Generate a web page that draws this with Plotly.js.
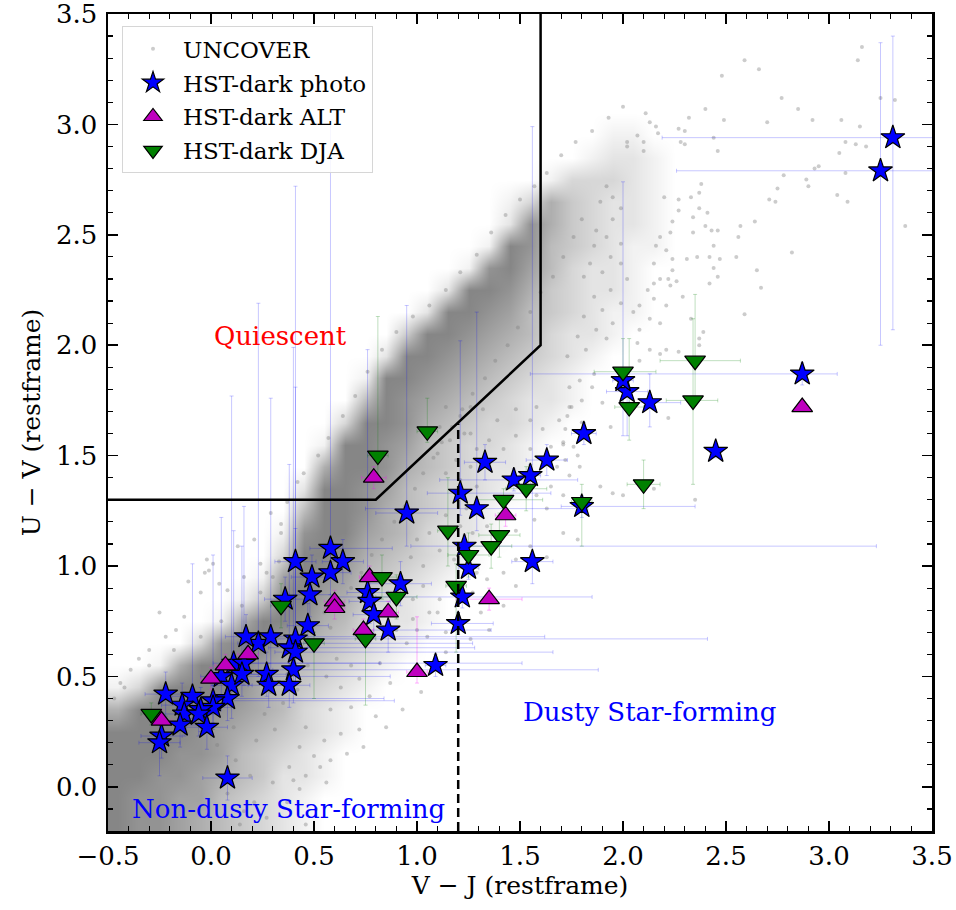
<!DOCTYPE html>
<html>
<head>
<meta charset="utf-8">
<script src="https://cdn.plot.ly/plotly-3.0.1.min.js"></script>
<style>
  html, body { margin: 0; padding: 0; background: #ffffff; }
  #uvj { width: 956px; height: 910px; }
</style>
</head>
<body>
<div id="uvj"></div>
<script>
// ---------- UNCOVER parent sample: density of the dense locus (0 = empty, 9 = saturated) ----------
const densVJ = [-0.45,-0.35,-0.25,-0.15,-0.05,0.05,0.15,0.25,0.35,0.45,0.55,0.65,0.75,0.85,0.95,1.05,1.15,1.25,1.35,1.45,
                1.55,1.65,1.75,1.85,1.95,2.05,2.15,2.25,2.35,2.45,2.55,2.65,2.75,2.85,2.95,3.05,3.15,3.25,3.35,3.45];
const densUV = [3.45,3.35,3.25,3.15,3.05,2.95,2.85,2.75,2.65,2.55,2.45,2.35,2.25,2.15,2.05,1.95,1.85,1.75,1.65,1.55,
                1.45,1.35,1.25,1.15,1.05,0.95,0.85,0.75,0.65,0.55,0.45,0.35,0.25,0.15,0.05,-0.05,-0.15];
const densRows = [
  "0000000000" + "0000000000" + "0000000000" + "0000000000", // 3.45
  "0000000000" + "0000000000" + "0000000000" + "0000000000", // 3.35
  "0000000000" + "0000000000" + "0000000000" + "0000000000", // 3.25
  "0000000000" + "0000000000" + "0000000000" + "0000000000", // 3.15
  "0000000000" + "0000000000" + "0000000000" + "0000000000", // 3.05
  "0000000000" + "0000000000" + "0000110000" + "0000000000", // 2.95
  "0000000000" + "0000000000" + "0001221000" + "0000000000", // 2.85
  "0000000000" + "0000000000" + "0133321000" + "0000000000", // 2.75
  "0000000000" + "0000000001" + "3643221000" + "0000000000", // 2.65
  "0000000000" + "0000000002" + "8643221000" + "0000000000", // 2.55
  "0000000000" + "0000000019" + "8543211000" + "0000000000", // 2.45
  "0000000000" + "0000000189" + "7532210000" + "0000000000", // 2.35
  "0000000000" + "0000002998" + "6432210000" + "0000000000", // 2.25
  "0000000000" + "0000029987" + "5432110000" + "0000000000", // 2.15
  "0000000000" + "0000499876" + "5322100000" + "0000000000", // 2.05
  "0000000000" + "0002998765" + "4321000000" + "0000000000", // 1.95
  "0000000000" + "0019987654" + "3210000000" + "0000000000", // 1.85
  "0000000000" + "0059876543" + "2210000000" + "0000000000", // 1.75
  "0000000000" + "0399865433" + "2100000000" + "0000000000", // 1.65
  "0000000000" + "1998754332" + "1000000000" + "0000000000", // 1.55
  "0000000000" + "6998654322" + "1000000000" + "0000000000", // 1.45
  "0000000002" + "9987543321" + "0000000000" + "0000000000", // 1.35
  "0000000005" + "9986543210" + "0000000000" + "0000000000", // 1.25
  "0000000018" + "9976532210" + "0000000000" + "0000000000", // 1.15
  "0000000039" + "9865432100" + "0000000000" + "0000000000", // 1.05
  "0000000179" + "8754321000" + "0000000000" + "0000000000", // 0.95
  "0000001499" + "7643210000" + "0000000000" + "0000000000", // 0.85
  "0000016998" + "6532210000" + "0000000000" + "0000000000", // 0.75
  "0000389976" + "5432100000" + "0000000000" + "0000000000", // 0.65
  "0016999765" + "4321000000" + "0000000000" + "0000000000", // 0.55
  "1389998654" + "3210000000" + "0000000000" + "0000000000", // 0.45
  "6999987653" + "2100000000" + "0000000000" + "0000000000", // 0.35
  "9999876543" + "2100000000" + "0000000000" + "0000000000", // 0.25
  "9998875432" + "1000000000" + "0000000000" + "0000000000", // 0.15
  "9988765422" + "1000000000" + "0000000000" + "0000000000", // 0.05
  "9887754321" + "0000000000" + "0000000000" + "0000000000", // -0.05
  "9887654321" + "0000000000" + "0000000000" + "0000000000"  // -0.15
];

// ---------- UNCOVER individual galaxies outside / on the flanks of the dense locus: [V-J, U-V] ----------
const uncoverPts = [
  [2.59,3.29],[2.66,3.25],[2.48,3.22],[3.16,3.35],[3.14,3.29],[2.77,3.12],[2.85,3.07],[2.40,3.07],[2.49,3.02],[2.92,3.02],
  [3.06,3.02],[2.70,3.01],[3.15,2.99],[3.25,3.12],[3.32,3.11],[2.32,3.03],[2.11,3.05],[2.13,3.01],[2.16,2.99],[2.17,2.96],
  [2.27,2.98],[2.30,2.97],[2.44,2.94],[2.07,2.95],[2.02,2.92],[2.02,2.90],[2.10,2.92],[2.10,2.88],[2.28,2.92],[2.30,2.91],
  [2.46,2.88],[3.08,2.92],[3.13,2.91],[3.18,2.90],[3.05,2.87],[2.95,2.81],[2.93,2.80],[3.08,2.78],[2.78,2.77],[2.89,2.75],
  [2.90,2.72],[2.75,2.71],[3.04,2.68],[3.09,2.65],[2.71,2.66],[2.74,2.65],[3.37,2.54],[2.64,2.56],[2.57,2.54],[2.56,2.49],
  [2.82,2.42],[2.65,2.34],[2.67,2.26],[2.59,2.14],[2.55,2.40],[2.46,2.52],[2.43,2.52],[2.38,2.73],[2.37,2.69],[2.33,2.67],
  [2.40,2.54],[2.44,2.45],[2.42,2.40],[2.47,2.39],[2.44,2.35],[2.46,2.31],[2.42,2.28],[2.39,2.06],[2.37,2.03],[2.34,2.51],
  [2.36,2.40],[2.31,2.39],[2.24,2.34],[2.22,2.30],[2.26,2.29],[2.23,2.27],[2.29,2.22],[2.21,2.18],[2.33,2.12],
  [2.20,2.67],[2.27,2.66],[2.27,2.61],[2.37,2.62],[2.34,2.58],[2.41,2.60],[2.24,2.56],[2.18,2.49],[2.23,2.51],[2.16,2.45],
  [2.21,2.43],[2.15,2.37],[2.24,2.39],[2.18,2.30],[2.15,2.28],[2.12,2.25],[2.15,2.21],[2.08,2.18],[2.05,2.15],[2.13,2.12],
  [2.08,2.07],[2.07,2.01],[2.18,2.10],[2.13,1.98],[2.21,1.98],
  [1.92,2.72],[1.95,2.67],[1.89,2.65],[1.99,2.62],[1.95,2.57],[1.87,2.52],[1.92,2.49],[1.99,2.46],[1.86,2.45],[1.94,2.40],
  [1.84,2.37],[1.99,2.37],[1.90,2.33],[1.81,2.31],[2.02,2.30],[1.94,2.25],[1.86,2.22],[1.99,2.19],[1.90,2.16],[1.81,2.13],
  [1.95,2.10],[1.87,2.07],[1.78,2.04],[1.92,2.03],[1.82,1.98],[1.73,1.95],
  [2.18,1.96],[2.27,1.97],[2.37,2.00],[2.08,1.93],[1.86,1.87],[1.79,1.84],[1.74,1.81],[1.85,1.81],[1.90,1.74],[1.80,1.75],
  [1.75,1.72],[1.73,1.68],[1.80,1.65],[1.72,1.62],[1.71,1.55],[1.76,1.54],[1.78,1.50],[1.72,1.48],[1.79,1.45],[1.94,1.63],
  [2.22,1.67],[1.95,1.33],[2.00,1.32],[2.35,1.30],[2.15,1.35],[1.89,1.36],
  [1.74,1.72],[1.69,1.66],[1.61,1.62],[1.55,1.66],[1.48,1.59],[1.42,1.53],[1.55,1.53],[1.65,1.54],[1.35,1.57],[1.29,1.53],
  [1.26,1.60],[1.39,1.66],[1.32,1.71],[1.48,1.71],[1.58,1.72],[1.71,1.56],[1.68,1.45],[1.74,1.41],[1.65,1.36],[1.58,1.32],
  [1.71,1.32],[1.63,1.26],[1.57,1.21],[1.48,1.16],[1.71,1.15],[1.78,1.12],[1.55,1.09],[1.63,1.04],[1.48,1.03],[1.42,0.97],
  [1.34,0.94],[1.29,0.97],[1.48,0.91],[1.27,0.88],[1.42,0.82],[1.31,0.79],[1.35,0.71],[1.26,0.67],[1.14,0.70],[1.06,0.79],
  [1.00,0.71],[1.11,0.85],[1.03,0.91],[0.98,0.85],[1.18,1.03],[1.11,1.07],[1.03,1.00],[0.97,1.04],[1.06,1.15],[1.00,1.12],
  [1.14,1.23],[1.21,1.18],[1.27,1.15],[1.34,1.18],[1.24,1.26],[1.21,1.39],[1.29,1.36],[1.14,1.42],[1.19,1.48],[1.26,1.45],
  [1.10,1.51],[1.16,1.57],[1.23,1.60],[1.11,1.63],[1.21,1.68],[1.26,1.72],[1.14,1.72],
  [0.61,0.58],[0.68,0.55],[0.56,0.50],[0.63,0.45],[0.72,0.49],[0.82,0.56],[0.87,0.47],[0.77,0.41],[0.68,0.36],[0.58,0.35],
  [0.80,0.32],[0.85,0.27],[0.72,0.26],[0.63,0.24],[0.55,0.21],[0.74,0.18],[0.66,0.15],[0.58,0.12],[0.53,0.09],[0.50,0.14],
  [0.95,0.65],[1.05,0.68],[1.14,0.61],[1.10,0.79],[0.98,0.76],[0.90,0.71],[0.93,0.35],[1.02,0.43],[0.46,0.27],[0.43,0.18],
  [0.38,0.09],[0.46,0.05],[0.40,0.03],[0.30,0.02],[0.43,-0.01],[0.37,-0.07],[0.51,-0.10],[0.27,-0.14],[0.46,-0.17],[0.21,-0.07],
  [0.14,-0.17],[0.56,0.02],
  [-0.11,0.93],[-0.02,1.03],[0.01,1.01],[-0.03,0.97],[0.13,1.09],[0.21,1.12],[0.29,1.24],[0.34,1.19],[0.34,1.15],[0.42,1.38],
  [0.37,1.29],[0.24,1.01],[0.27,0.97],[0.04,0.92],[0.16,0.95],[0.39,1.01],[-0.25,0.79],[-0.01,0.98],[-0.22,0.68],[-0.35,0.58],
  [-0.44,0.47],[-0.13,0.77],[-0.05,0.88],[0.08,0.89],[-0.30,0.62],[-0.39,0.53],[-0.17,0.71],
  [0.45,1.42],[0.52,1.50],[0.57,1.58],[0.64,1.68],[0.70,1.77],[0.76,1.88],[0.83,1.98],[0.90,2.06],[0.98,2.13],[1.06,2.18],
  [1.14,2.25],[1.21,2.33],[1.29,2.41],[1.36,2.51],[1.43,2.59],[1.50,2.66],[1.57,2.72],[1.63,2.78],[1.70,2.86],[1.77,2.92],
  [1.85,2.97],[1.93,3.03],[2.00,3.08],[0.33,1.02],[0.30,0.95],[0.24,0.88],[0.15,0.82],[0.05,0.75],[-0.05,0.68],[-0.18,0.62],
  [-0.30,0.55],[-0.42,0.45],[-0.47,0.40],
  [0.22,0.21],[0.31,0.26],[0.26,0.33],[0.35,0.38],[0.29,0.43],[0.42,0.44],[0.37,0.51],[0.47,0.55],[0.44,0.62],[0.52,0.66],
  [0.58,0.72],[0.55,0.79],[0.64,0.83],[0.68,0.90],[0.73,0.97],[0.78,1.05],[0.83,1.12],[0.89,1.20],[0.94,1.27],[0.99,1.35],
  [1.03,1.42],[1.08,1.49],[1.12,1.56],[1.17,1.63],[1.22,1.71],[1.27,1.78],[1.33,1.85],[1.38,1.93],[1.44,2.00],[1.49,2.08],
  [1.55,2.15],[1.60,2.24],[1.66,2.31],[1.71,2.40],[1.76,2.49],[1.80,2.57],[0.12,0.12],[0.19,0.05],[0.08,-0.03],[0.16,-0.11],
  [0.03,0.19],[0.11,0.27]
];

// ---------- HST-dark sources, photometric fits ----------
const photoVJ   = [3.31,3.25,2.87,2.45,2.13,2.02,2.00,1.81,1.80,1.63,1.55,1.47,1.33,1.21,1.29,0.95,1.23,1.25,1.56,1.22,
                   1.20,1.09,0.92,0.76,0.77,0.79,0.86,0.64,0.58,0.58,0.41,0.49,0.48,0.36,0.47,0.23,0.29,0.17,0.41,0.38,
                   0.41,0.11,0.16,0.05,0.10,0.15,0.40,0.27,0.28,0.38,0.08,0.01,0.01,-0.09,-0.14,-0.13,-0.05,-0.22,-0.06,-0.15,
                   -0.02,-0.24,-0.25,0.08];
const photoUV   = [2.94,2.79,1.87,1.52,1.74,1.79,1.84,1.60,1.27,1.48,1.41,1.39,1.47,1.33,1.26,1.24,1.09,0.99,1.02,0.86,
                   0.74,0.55,0.92,0.88,0.84,0.78,0.71,1.02,1.08,0.97,1.02,0.95,0.87,0.85,0.73,0.65,0.68,0.68,0.67,0.63,
                   0.61,0.56,0.56,0.50,0.46,0.51,0.53,0.51,0.46,0.46,0.40,0.39,0.36,0.41,0.37,0.33,0.35,0.42,0.33,0.28,
                   0.27,0.23,0.20,0.04];
const photoVJlo = [1.12,0.99,1.32,0.03,0.10,0.10,0.05,0.06,0.10,0.10,0.05,0.36,0.10,0.16,0.54,0.15,0.26,0.05,0.10,0.63,
                   0.13,0.05,0.15,0.10,0.10,0.10,0.10,0.10,0.10,0.10,0.10,0.10,0.10,0.10,0.10,0.10,0.10,0.10,0.10,0.10,
                   0.10,0.10,0.10,0.10,0.10,0.10,0.10,0.10,0.10,0.10,0.10,0.10,0.10,0.10,0.10,0.10,0.10,0.10,0.10,0.10,
                   0.10,0.10,0.10,0.12];
const photoVJhi = [0.40,0.40,0.17,0.03,0.15,0.10,0.05,0.06,0.55,0.10,0.05,0.31,0.10,0.44,0.54,0.15,2.00,0.05,0.10,0.63,
                   0.17,0.05,0.15,0.10,0.10,0.10,0.50,0.10,0.30,0.10,0.10,0.10,0.10,0.10,0.10,1.04,1.33,0.10,2.00,0.90,
                   1.25,1.40,0.66,0.82,0.10,0.10,1.48,0.10,0.10,0.10,0.76,0.88,0.10,0.10,0.10,0.10,0.10,0.10,0.10,0.10,
                   0.10,0.10,0.10,0.12];
const photoUVlo = [0.87,0.79,0.05,0.03,0.11,0.20,0.25,0.05,0.05,0.07,0.05,0.05,0.08,0.10,0.10,0.15,0.05,0.05,0.10,0.05,
                   0.05,0.05,0.10,0.10,0.10,0.10,0.10,0.10,0.10,0.10,0.15,0.10,0.10,0.10,0.10,0.15,0.15,0.10,0.20,0.15,
                   0.15,0.10,0.10,0.10,0.15,0.10,0.15,0.10,0.10,0.10,0.10,0.10,0.10,0.10,0.10,0.10,0.10,0.10,0.10,0.10,
                   0.10,0.10,0.15,0.10];
const photoUVhi = [0.46,0.58,0.05,0.03,0.13,0.10,0.90,0.05,0.05,0.07,0.05,0.05,0.08,0.69,0.89,0.94,0.05,0.05,1.97,0.05,
                   0.05,0.05,0.10,1.10,0.10,0.10,0.10,0.10,1.94,0.10,0.15,0.10,0.10,0.10,0.10,1.54,1.08,0.10,2.05,0.83,
                   1.20,0.60,0.71,0.72,1.31,0.58,1.46,0.10,0.10,0.10,0.10,0.66,0.10,0.60,0.10,0.10,0.10,0.10,0.10,0.10,
                   0.10,0.10,0.10,0.10];

// ---------- HST-dark sources, ALT spectroscopy ----------
const altVJ   = [2.87,1.43,0.79,1.35,1.00,0.77,0.60,0.60,0.86,0.74,0.18,0.07,0.00,-0.24];
const altUV   = [1.72,1.23,1.40,0.85,0.52,0.95,0.84,0.81,0.79,0.71,0.60,0.55,0.49,0.30];
const altVJlo = [0.02,0.05,0.06,0.16,0.05,0.05,0.05,0.05,0.05,0.05,0.05,0.05,0.05,0.05];
const altVJhi = [0.02,0.05,0.06,0.16,0.05,0.05,0.05,0.05,0.05,0.05,0.05,0.05,0.05,0.05];
const altUVlo = [0.02,0.05,0.05,0.05,0.05,0.05,0.05,0.05,0.05,0.05,0.05,0.05,0.05,0.05];
const altUVhi = [0.02,0.05,0.05,0.05,0.25,0.05,0.05,0.05,0.05,0.05,0.05,0.05,0.05,0.05];

// ---------- HST-dark sources, DJA spectroscopy ----------
const djaVJ   = [2.00,2.03,2.35,2.34,2.10,1.80,1.53,1.42,1.40,1.36,1.15,1.25,1.19,1.05,0.81,0.83,0.90,0.75,0.50,0.34,-0.29];
const djaUV   = [1.88,1.72,1.93,1.75,1.37,1.29,1.35,1.30,1.14,1.09,1.16,1.05,0.91,1.61,1.50,0.95,0.86,0.67,0.65,0.82,0.33];
const djaVJlo = [0.14,0.07,0.17,0.13,0.08,0.05,0.10,0.13,0.10,0.10,0.05,0.10,0.05,0.05,0.05,0.10,0.10,0.05,0.05,0.05,0.05];
const djaVJhi = [0.16,0.07,0.22,0.12,0.08,0.05,0.10,0.19,0.10,0.10,0.05,0.10,0.05,0.05,0.05,0.10,0.10,0.05,0.05,0.05,0.05];
const djaUVlo = [0.15,0.15,0.20,0.38,0.11,0.20,0.10,0.05,0.10,0.10,0.16,0.10,0.30,0.05,0.10,0.10,0.10,0.30,0.25,0.10,0.05];
const djaUVhi = [0.15,0.31,0.30,0.37,0.11,0.08,0.10,0.05,0.10,0.10,0.24,0.10,0.10,0.15,0.63,0.10,0.10,0.05,0.05,0.10,0.05];

// ---------- UVJ selection boundaries ----------
const quiescentVJ = [-0.5, 0.8, 1.6, 1.6];
const quiescentUV = [1.3, 1.3, 2.0, 3.5];
const dustyVJ = [1.2, 1.2];
const dustyUV = [-0.2, 1.646];

// ---------- region labels ----------
const regionText = ["Quiescent", "Dusty Star-forming", "Non-dusty Star-forming"];
const regionVJ   = [0.335, 2.13, 0.375];
const regionUV   = [2.04, 0.34, -0.10];
const regionColor = ["#ff0000", "#0000ff", "#0000ff"];

const FONT = "DejaVu Serif, serif";

function errTrace(x, y, xlo, xhi, ylo, yhi, color) {
  return {
    type: "scatter", mode: "markers", x: x, y: y,
    marker: { size: 1, opacity: 0 },
    error_x: { type: "data", symmetric: false, array: xhi, arrayminus: xlo, color: color, thickness: 1, width: 2 },
    error_y: { type: "data", symmetric: false, array: yhi, arrayminus: ylo, color: color, thickness: 1, width: 2 },
    showlegend: false, hoverinfo: "skip"
  };
}

const traces = [
  {
    type: "heatmap", x: densVJ, y: densUV,
    z: densRows.map(r => r.split("").map(Number)),
    zmin: 0, zmax: 9, zsmooth: "best",
    colorscale: [[0, "#ffffff"], [1, "#868686"]],
    showscale: false, hoverinfo: "skip"
  },
  {
    type: "scatter", mode: "markers", name: "UNCOVER", legendgroup: "g1",
    x: uncoverPts.map(p => p[0]), y: uncoverPts.map(p => p[1]),
    marker: { size: 4, color: "rgba(128,128,128,0.4)", line: { width: 0 } }
  },
  errTrace(photoVJ, photoUV, photoVJlo, photoVJhi, photoUVlo, photoUVhi, "rgba(0,0,255,0.22)"),
  errTrace(altVJ, altUV, altVJlo, altVJhi, altUVlo, altUVhi, "rgba(255,0,255,0.3)"),
  errTrace(djaVJ, djaUV, djaVJlo, djaVJhi, djaUVlo, djaUVhi, "rgba(0,128,0,0.25)"),
  {
    type: "scatter", mode: "markers", name: "HST-dark photo", legendgroup: "g2",
    x: photoVJ, y: photoUV,
    marker: { symbol: "star", size: 18, color: "#0000ff", line: { color: "#000000", width: 1.2 } }
  },
  {
    type: "scatter", mode: "markers", name: "HST-dark ALT", legendgroup: "g3",
    x: altVJ, y: altUV,
    marker: { symbol: "triangle-up", size: 18, color: "#bf00bf", line: { color: "#000000", width: 1.2 } }
  },
  {
    type: "scatter", mode: "markers", name: "HST-dark DJA", legendgroup: "g4",
    x: djaVJ, y: djaUV,
    marker: { symbol: "triangle-down", size: 18, color: "#008000", line: { color: "#000000", width: 1.2 } }
  },
  {
    type: "scatter", mode: "lines", x: quiescentVJ, y: quiescentUV,
    line: { color: "#000000", width: 2.5 }, showlegend: false, hoverinfo: "skip"
  },
  {
    type: "scatter", mode: "lines", x: dustyVJ, y: dustyUV,
    line: { color: "#000000", width: 2.5, dash: "9px,5px" }, showlegend: false, hoverinfo: "skip"
  }
];

const axisCommon = {
  showline: true, linecolor: "#000000", linewidth: 2.5, mirror: "allticks",
  ticks: "inside", ticklen: 10, tickwidth: 1.6, tickcolor: "#000000",
  showgrid: false, zeroline: false, dtick: 0.5, tickformat: ".1f",
  ticklabeloverflow: "allow",
  tickfont: { family: FONT, size: 26, color: "#000000" },
  minor: { dtick: 0.1, ticks: "inside", ticklen: 5, tickwidth: 1.2, tickcolor: "#000000", showgrid: false }
};

const layout = {
  width: 956, height: 910,
  margin: { l: 108, r: 24, t: 14, b: 79 },
  paper_bgcolor: "#ffffff", plot_bgcolor: "#ffffff",
  font: { family: FONT, color: "#000000" },
  xaxis: Object.assign({}, axisCommon, {
    range: [-0.5, 3.5], tick0: -0.5,
    title: { text: "V \u2212 J (restframe)", font: { family: FONT, size: 25 }, standoff: 6 }
  }),
  yaxis: Object.assign({}, axisCommon, {
    range: [-0.2, 3.5], tick0: 0, ticklabelstandoff: 3,
    title: { text: "U \u2212 V (restframe)", font: { family: FONT, size: 25 }, standoff: 8 }
  }),
  legend: {
    x: 0.017, y: 0.985, xanchor: "left", yanchor: "top",
    bgcolor: "rgba(255,255,255,0.85)", bordercolor: "#d6d6d6", borderwidth: 1,
    font: { family: FONT, size: 23, color: "#000000" },
    itemwidth: 50, tracegroupgap: 1
  },
  annotations: regionText.map((t, i) => ({
    x: regionVJ[i], y: regionUV[i], xref: "x", yref: "y",
    text: t, showarrow: false,
    font: { family: FONT, size: 26, color: regionColor[i] }
  }))
};

Plotly.newPlot("uvj", traces, layout, { displayModeBar: false, staticPlot: true });
</script>
</body>
</html>
